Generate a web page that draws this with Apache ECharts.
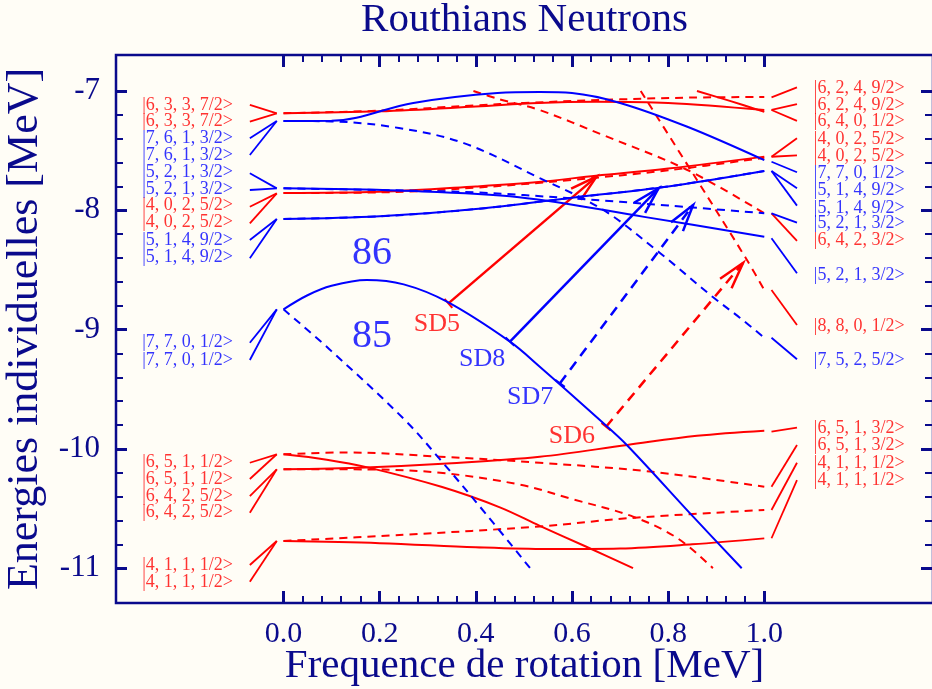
<!DOCTYPE html>
<html lang="fr">
<head>
<meta charset="UTF-8">
<title>Routhians Neutrons</title>
<script src="https://cdn.jsdelivr.net/npm/echarts@6/dist/echarts.min.js"></script>
<style>
    html, body { margin: 0; padding: 0; background: #fffdf6; }
    #main { width: 932px; height: 689px; }
</style>
</head>
<body>
<div id="main"></div>
<script>
// ---- data (omega in MeV, energies in MeV) ----
var majorX = [0, 0.2, 0.4, 0.6, 0.8, 1.0];
var majorY = [-11, -10, -9, -8, -7];

// red solid routhians
var red1 = [[0,-7.186],[0.2,-7.17],[0.4,-7.13],[0.53,-7.10],[0.65,-7.09],[0.8,-7.10],[1.0,-7.16]];
var red2 = [[0.86,-7.0],[0.93,-7.085],[1.0,-7.175]];
var red3 = [[0,-7.855],[0.2,-7.845],[0.4,-7.80],[0.53,-7.763],[0.65,-7.71],[0.8,-7.65],[1.0,-7.55]];
var red4 = [[0,-10.045],[0.09,-10.09],[0.175,-10.155],[0.33,-10.32],[0.45,-10.49],[0.533,-10.645],[0.63,-10.82],[0.727,-11.0]];
var red5 = [[0,-10.17],[0.17,-10.155],[0.35,-10.12],[0.533,-10.066],[0.715,-9.967],[0.86,-9.89],[1.0,-9.847]];
var red6 = [[0,-10.772],[0.2,-10.79],[0.4,-10.825],[0.55,-10.84],[0.7,-10.835],[0.85,-10.8],[1.0,-10.75]];
// red dashed routhians
var redD1 = [[0,-7.186],[0.2,-7.165],[0.4,-7.12],[0.5,-7.10],[0.7,-7.07],[0.85,-7.055],[1.0,-7.05]];
var redD2 = [[0.395,-7.0],[0.45,-7.07],[0.533,-7.16],[0.665,-7.37],[0.839,-7.66],[1.0,-8.025]];
var redD3 = [[0,-7.855],[0.2,-7.85],[0.4,-7.81],[0.6,-7.745],[0.8,-7.665],[1.0,-7.56]];
var redD4 = [[0.743,-7.0],[0.86,-7.746],[0.964,-8.417],[1.0,-8.668]];
var redD5 = [[0,-10.045],[0.13,-10.03],[0.326,-10.065],[0.533,-10.116],[0.762,-10.19],[1.0,-10.317]];
var redD6 = [[0,-10.17],[0.175,-10.172],[0.326,-10.20],[0.492,-10.30],[0.6,-10.42],[0.727,-10.568],[0.82,-10.75],[0.893,-11.0]];
var redD7 = [[0,-10.772],[0.25,-10.72],[0.533,-10.65],[0.72,-10.58],[1.0,-10.512]];
// blue solid routhians
var blue1 = [[0,-7.251],[0.1,-7.25],[0.27,-7.10],[0.445,-7.017],[0.533,-7.008],[0.6,-7.017],[0.7,-7.10],[0.84,-7.30],[1.0,-7.58]];
var blue2 = [[0,-7.816],[0.24,-7.835],[0.49,-7.89],[0.75,-8.055],[1.0,-8.221]];
var blue3 = [[0,-8.073],[0.2,-8.05],[0.4,-7.99],[0.6,-7.895],[0.8,-7.80],[1.0,-7.67]];
var blue86 = [[0,-8.83],[0.05,-8.712],[0.1,-8.633],[0.173,-8.584],[0.25,-8.621],[0.34,-8.766],[0.471,-9.101],[0.533,-9.311],[0.658,-9.758],[0.714,-9.967],[0.852,-10.568],[0.953,-11.0]];
// blue dashed routhians
var blueD1 = [[0,-7.251],[0.1,-7.255],[0.24,-7.31],[0.375,-7.437],[0.533,-7.73],[0.665,-7.997],[0.783,-8.358],[0.893,-8.727],[0.949,-8.90],[1.0,-9.068]];
var blueD2 = [[0,-7.816],[0.2,-7.83],[0.4,-7.85],[0.6,-7.90],[0.8,-7.96],[1.0,-8.025]];
var blueD3 = blue3;
var blue85 = [[0,-8.83],[0.097,-9.17],[0.253,-9.76],[0.326,-10.09],[0.42,-10.54],[0.513,-11.0]];

// transitions [x1, y1, x2, y2]
var sd5 = [[0.343,-8.78,0.651,-7.718]];
var sd8 = [[0.471,-9.10,0.78,-7.816]];
var sd7 = [[0.575,-9.45,0.852,-7.956]];
var sd6 = [[0.671,-9.814,0.956,-8.44]];

// connectors from the labels to the levels [x1, y1, x2, y2]
var leftRedLinks = [[-0.07,-7.117,-0.014,-7.187],[-0.07,-7.257,-0.014,-7.187],
    [-0.07,-7.970,-0.014,-7.858],[-0.07,-8.109,-0.014,-7.858],
    [-0.07,-10.116,-0.014,-10.045],[-0.07,-10.252,-0.014,-10.045],
    [-0.07,-10.395,-0.014,-10.171],[-0.07,-10.535,-0.014,-10.171],
    [-0.07,-10.973,-0.014,-10.772],[-0.07,-11.113,-0.014,-10.772]];
var leftBlueLinks = [[-0.07,-7.396,-0.014,-7.251],[-0.07,-7.536,-0.014,-7.251],
    [-0.07,-7.690,-0.014,-7.816],[-0.07,-7.830,-0.014,-7.816],
    [-0.07,-8.249,-0.014,-8.073],[-0.07,-8.402,-0.014,-8.073],
    [-0.07,-9.110,-0.014,-8.830],[-0.07,-9.255,-0.014,-8.830]];
var rightRedLinks = [[1.015,-7.053,1.068,-6.969],[1.015,-7.159,1.068,-7.109],[1.015,-7.159,1.068,-7.251],
    [1.015,-7.551,1.068,-7.396],[1.015,-7.551,1.068,-7.539],[1.015,-8.025,1.068,-8.257],
    [1.015,-8.668,1.068,-8.961],[1.015,-9.856,1.068,-9.822],[1.015,-10.317,1.068,-9.967],
    [1.015,-10.512,1.068,-10.116],[1.015,-10.749,1.068,-10.261]];
var rightBlueLinks = [[1.015,-7.593,1.068,-7.681],[1.015,-7.671,1.068,-7.816],[1.015,-7.671,1.068,-7.961],
    [1.015,-8.025,1.068,-8.104],[1.015,-8.235,1.068,-8.528],[1.015,-9.068,1.068,-9.249]];

// Nilsson labels [omega, energy, text]
var leftRedLabels = [[-0.105,-7.117,'|6, 3, 3, 7/2>'],[-0.105,-7.257,'|6, 3, 3, 7/2>'],
    [-0.105,-7.96,'|4, 0, 2, 5/2>'],[-0.105,-8.10,'|4, 0, 2, 5/2>'],
    [-0.105,-10.116,'|6, 5, 1, 1/2>'],[-0.105,-10.252,'|6, 5, 1, 1/2>'],
    [-0.105,-10.395,'|6, 4, 2, 5/2>'],[-0.105,-10.535,'|6, 4, 2, 5/2>'],
    [-0.105,-10.973,'|4, 1, 1, 1/2>'],[-0.105,-11.12,'|4, 1, 1, 1/2>']];
var leftBlueLabels = [[-0.105,-7.396,'|7, 6, 1, 3/2>'],[-0.105,-7.536,'|7, 6, 1, 3/2>'],
    [-0.105,-7.679,'|5, 2, 1, 3/2>'],[-0.105,-7.82,'|5, 2, 1, 3/2>'],
    [-0.105,-8.25,'|5, 1, 4, 9/2>'],[-0.105,-8.39,'|5, 1, 4, 9/2>'],
    [-0.105,-9.11,'|7, 7, 0, 1/2>'],[-0.105,-9.255,'|7, 7, 0, 1/2>']];
var rightRedLabels = [[1.103,-6.977,'|6, 2, 4, 9/2>'],[1.103,-7.123,'|6, 2, 4, 9/2>'],
    [1.103,-7.257,'|6, 4, 0, 1/2>'],[1.103,-7.402,'|4, 0, 2, 5/2>'],[1.103,-7.55,'|4, 0, 2, 5/2>'],
    [1.103,-8.255,'|6, 4, 2, 3/2>'],[1.103,-8.976,'|8, 8, 0, 1/2>'],
    [1.103,-9.827,'|6, 5, 1, 3/2>'],[1.103,-9.973,'|6, 5, 1, 3/2>'],
    [1.103,-10.121,'|4, 1, 1, 1/2>'],[1.103,-10.26,'|4, 1, 1, 1/2>']];
var rightBlueLabels = [[1.103,-7.689,'|7, 7, 0, 1/2>'],[1.103,-7.836,'|5, 1, 4, 9/2>'],
    [1.103,-7.979,'|5, 1, 4, 9/2>'],[1.103,-8.109,'|5, 2, 1, 3/2>'],
    [1.103,-8.543,'|5, 2, 1, 3/2>'],[1.103,-9.255,'|7, 5, 2, 5/2>']];

var bandLabels = [[0.184,-8.366,'86'],[0.184,-9.062,'85']];
var redTags = [[0.319,-8.953,'SD5'],[0.60,-9.892,'SD6']];
var blueTags = [[0.413,-9.246,'SD8'],[0.513,-9.565,'SD7']];

// ---- chart ----
var NAVY = '#0a0a8c', RED = '#ff0000', BLUE = '#0000ff';
var FONT = '"Liberation Serif", "DejaVu Serif", serif';
var XMIN = -0.3484, XMAX = 1.3509, YMIN = -11.2917, YMAX = -6.6982;

var minorX = [], minorY = [];
for (var i = 1; i < 25; i++) { if (i % 5) minorX.push(+(i * 0.04).toFixed(2)); }
for (var j = 1; j < 20; j++) { if (j % 5) minorY.push(+(-11 + j * 0.2).toFixed(1)); }

function xAxisDef(pos, ticks, len, width, extra) {
    return Object.assign({
        type: 'value', position: pos, min: XMIN, max: XMAX,
        axisLine: { show: false, onZero: false }, splitLine: { show: false },
        axisTick: { show: true, inside: true, length: len, customValues: ticks, lineStyle: { color: NAVY, width: width } },
        axisLabel: { show: false }
    }, extra || {});
}
function yAxisDef(pos, ticks, len, width, extra) {
    return Object.assign({
        type: 'value', position: pos, min: YMIN, max: YMAX,
        axisLine: { show: false, onZero: false }, splitLine: { show: false },
        axisTick: { show: true, inside: true, length: len, customValues: ticks, lineStyle: { color: NAVY, width: width } },
        axisLabel: { show: false }
    }, extra || {});
}

function curve(data, color, dashed) {
    return {
        type: 'line', data: data, showSymbol: false, smooth: 0.35, silent: true,
        lineStyle: { color: color, width: 2, type: dashed ? [8, 6] : 'solid' }
    };
}
function segments(data, color) {
    return {
        type: 'custom', silent: true, data: data,
        renderItem: function (params, api) {
            var a = api.coord([api.value(0), api.value(1)]);
            var b = api.coord([api.value(2), api.value(3)]);
            return { type: 'line', shape: { x1: a[0], y1: a[1], x2: b[0], y2: b[1] },
                style: { stroke: color, lineWidth: 1.8 } };
        }
    };
}
function arrow(data, color, dashed) {
    return {
        type: 'custom', silent: true, data: data,
        renderItem: function (params, api) {
            var a = api.coord([api.value(0), api.value(1)]);
            var b = api.coord([api.value(2), api.value(3)]);
            var ang = Math.atan2(b[1] - a[1], b[0] - a[0]);
            var L = 28, w = 0.27;
            var h1 = [b[0] - L * Math.cos(ang - w), b[1] - L * Math.sin(ang - w)];
            var h2 = [b[0] - L * Math.cos(ang + w), b[1] - L * Math.sin(ang + w)];
            var nx = -Math.sin(ang) * 6, ny = Math.cos(ang) * 6;
            return { type: 'group', children: [
                { type: 'line', shape: { x1: a[0], y1: a[1], x2: b[0], y2: b[1] },
                  style: { stroke: color, lineWidth: 2.5, lineDash: dashed ? [10, 7] : null } },
                { type: 'polyline', shape: { points: [h1, b, h2] },
                  style: { stroke: color, lineWidth: 2.5, fill: null } },
                { type: 'line', shape: { x1: a[0] - nx, y1: a[1] - ny, x2: a[0] + nx, y2: a[1] + ny },
                  style: { stroke: color, lineWidth: 2 } }
            ] };
        }
    };
}
function texts(data, color, size, pos) {
    return {
        type: 'scatter', data: data, symbolSize: 0, silent: true,
        label: { show: true, position: pos, distance: 0, color: color, fontFamily: FONT, fontSize: size,
            formatter: function (p) { return p.data[2]; } }
    };
}

var chart = echarts.init(document.getElementById('main'));
chart.setOption({
    backgroundColor: '#fffdf6',
    animation: false,
    grid: { left: 116, top: 55, right: -1, bottom: 86, show: true, borderColor: NAVY, borderWidth: 2.5,
        backgroundColor: 'transparent', outerBoundsMode: 'none', containLabel: false },
    xAxis: [
        xAxisDef('bottom', majorX, 12, 3, {
            axisLabel: { show: true, customValues: majorX, margin: 16, color: NAVY, fontFamily: FONT, fontSize: 30,
                formatter: function (v) { return v.toFixed(1); } },
            name: 'Frequence de rotation [MeV]', nameLocation: 'middle', nameGap: 43, nameMoveOverlap: false,
            nameTextStyle: { color: NAVY, fontFamily: FONT, fontSize: 41, verticalAlign: 'top' }
        }),
        xAxisDef('bottom', minorX, 7, 2),
        xAxisDef('top', majorX, 12, 3, {
            name: 'Routhians Neutrons', nameLocation: 'middle', nameGap: 14, nameMoveOverlap: false,
            nameTextStyle: { color: NAVY, fontFamily: FONT, fontSize: 41, verticalAlign: 'bottom' }
        }),
        xAxisDef('top', minorX, 7, 2)
    ],
    yAxis: [
        yAxisDef('left', majorY, 11, 3, {
            axisLabel: { show: true, customValues: majorY, margin: 16, color: NAVY, fontFamily: FONT, fontSize: 31,
                formatter: function (v) { return String(v); } },
            name: 'Energies individuelles [MeV]', nameLocation: 'middle', nameGap: 67,
            nameTextStyle: { color: NAVY, fontFamily: FONT, fontSize: 44 }
        }),
        yAxisDef('left', minorY, 7, 2),
        yAxisDef('right', majorY, 12, 3),
        yAxisDef('right', minorY, 8, 2)
    ],
    series: [
        curve(red1, RED), curve(red2, RED), curve(red3, RED), curve(red4, RED), curve(red5, RED), curve(red6, RED),
        curve(redD1, RED, true), curve(redD2, RED, true), curve(redD3, RED, true), curve(redD4, RED, true),
        curve(redD5, RED, true), curve(redD6, RED, true), curve(redD7, RED, true),
        curve(blue1, BLUE), curve(blue2, BLUE), curve(blue3, BLUE), curve(blue86, BLUE),
        curve(blueD1, BLUE, true), curve(blueD2, BLUE, true), curve(blueD3, BLUE, true), curve(blue85, BLUE, true),
        segments(leftRedLinks, RED), segments(leftBlueLinks, BLUE),
        segments(rightRedLinks, RED), segments(rightBlueLinks, BLUE),
        arrow(sd5, RED, false), arrow(sd8, BLUE, false), arrow(sd7, BLUE, true), arrow(sd6, RED, true),
        texts(leftRedLabels, RED, 18, 'left'), texts(leftBlueLabels, BLUE, 18, 'left'),
        texts(rightRedLabels, RED, 18, 'right'), texts(rightBlueLabels, BLUE, 18, 'right'),
        texts(bandLabels, BLUE, 40, 'inside'),
        texts(redTags, RED, 26, 'inside'), texts(blueTags, BLUE, 26, 'inside')
    ]
});
</script>
</body>
</html>
